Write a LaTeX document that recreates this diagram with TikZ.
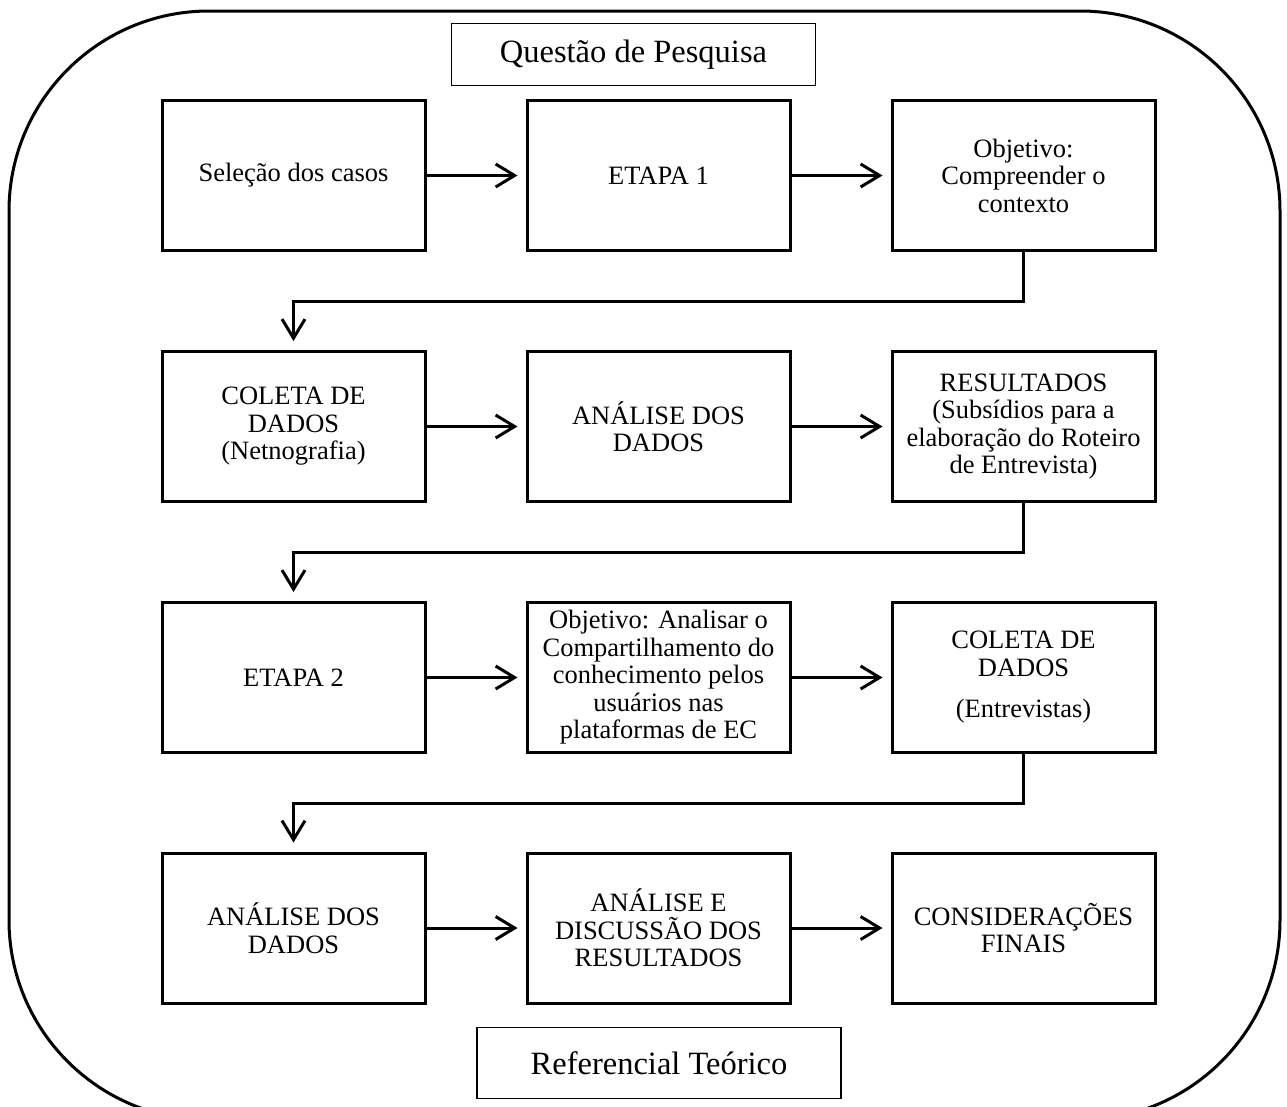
\documentclass[tikz,border=0pt]{standalone}
\usepackage{fontspec}
\setmainfont{Liberation Serif}
\usetikzlibrary{arrows.meta}
\begin{document}
\begin{tikzpicture}[x=1pt,y=-1pt,
  stage/.style={draw, line width=3pt, minimum width=263pt, minimum height=150pt,
    inner sep=0pt, align=center, font=\fontsize{26.5}{27.5}\selectfont},
  titlebox/.style={draw, line width=1.3pt, minimum width=364pt, inner sep=0pt,
    align=center, font=\fontsize{32.5}{34}\selectfont},
  flow/.style={line width=3pt, -{Straight Barb[length=19pt,width=23pt]}},
  outerline/.style={draw, line width=3pt, rounded corners=200pt}]
\clip (0,0) rectangle (1287,1106);
\draw[outerline] (9,11) rectangle (1280,1120);
\node[titlebox, minimum height=62pt] (q) at (633.5,54.5) {Questão de Pesquisa};
\node[titlebox, minimum height=71pt] (r) at (659,1063) {Referencial Teórico};
% row 1
\node[stage] (a1) at (293.5,175.5) {Seleção dos casos};
\node[stage] (a2) at (658.5,175.5) {ETAPA 1};
\node[stage] (a3) at (1023.5,175.5) {Objetivo:\\Compreender o\\contexto};
% row 2
\node[stage] (b1) at (293.5,426.5) {COLETA DE\\DADOS\\(Netnografia)};
\node[stage] (b2) at (658.5,426.5) {ANÁLISE DOS\\DADOS};
\node[stage] (b3) at (1023.5,426.5) {RESULTADOS\\(Subsídios para a\\elaboração do Roteiro\\de Entrevista)};
% row 3
\node[stage] (c1) at (293.5,677.5) {ETAPA 2};
\node[stage] (c2) at (658.5,677.5) {Objetivo: Analisar o\\Compartilhamento do\\conhecimento pelos\\usuários nas\\plataformas de EC};
\node[stage] (c3) at (1023.5,677.5) {COLETA DE\\DADOS\\[14pt](Entrevistas)};
% row 4
\node[stage] (d1) at (293.5,928) {ANÁLISE DOS\\DADOS};
\node[stage] (d2) at (658.5,928) {ANÁLISE E\\DISCUSSÃO DOS\\RESULTADOS};
\node[stage] (d3) at (1023.5,928) {CONSIDERAÇÕES\\FINAIS};
% horizontal arrows
\foreach \r in {a,b,c,d}{
  \draw[flow, shorten >=8pt] (\r1.east) -- (\r2.west);
  \draw[flow, shorten >=8pt] (\r2.east) -- (\r3.west);
}
% row connectors
\draw[flow, shorten >=9pt] (a3.south) -- ++(0,49) -| (b1.north);
\draw[flow, shorten >=9pt] (b3.south) -- ++(0,49) -| (c1.north);
\draw[flow, shorten >=9pt] (c3.south) -- ++(0,49) -| (d1.north);
\end{tikzpicture}
\end{document}
